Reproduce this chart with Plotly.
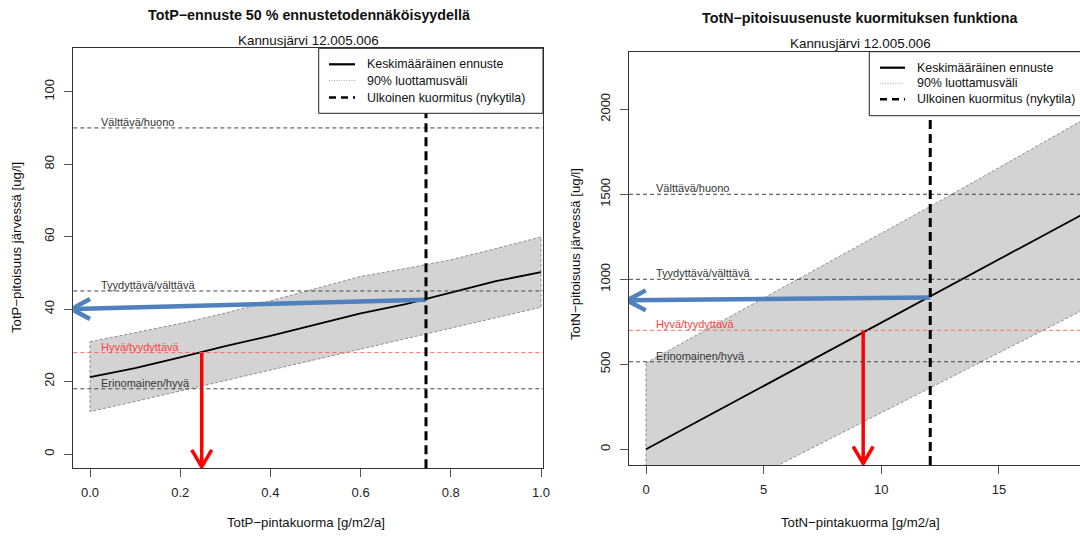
import plotly.graph_objects as go

# ---------------- data ----------------
# TotP (left)
p_load = [0.0, 0.1, 0.2, 0.3, 0.4, 0.5, 0.6, 0.7, 0.8, 0.9, 1.0]
p_mean = [21.2, 23.7, 26.7, 29.8, 32.6, 35.7, 38.8, 41.4, 44.6, 47.7, 50.2]
p_upper = [31.0, 33.4, 36.0, 38.9, 42.2, 45.6, 49.0, 51.2, 53.6, 56.7, 59.9]
p_lower = [11.7, 14.5, 17.3, 20.2, 23.1, 26.0, 28.9, 31.8, 34.6, 37.6, 40.5]
p_current = 0.745
p_current_conc = 42.6
p_arrow_end_conc = 40.0
p_target_load = 0.2477
p_target_conc = 28.0
p_class_vals = [90, 45, 28, 18]

# TotN (right)
n_load = [0, 2, 4, 6, 8, 10, 12, 14, 16, 18, 20]
n_mean = [0, 149, 298, 447, 596, 745, 894, 1043, 1192, 1341, 1490]
n_upper = [508, 660, 812, 965, 1118, 1271, 1423, 1578, 1735, 1893, 2050]
n_lower = [-490, -349, -208, -67, 74, 215, 356, 497, 638, 779, 920]
n_current = 12.08
n_current_conc = 893
n_arrow_end_conc = 876
n_target_load = 9.23
n_target_conc = 700
n_class_vals = [1500, 1000, 700, 515]

class_labels = ["Välttävä/huono", "Tyydyttävä/välttävä", "Hyvä/tyydyttävä", "Erinomainen/hyvä"]
class_colors = ["#333333", "#333333", "#FF4040", "#333333"]
class_line_colors = ["#444444", "#444444", "rgba(255,90,90,0.85)", "#444444"]

legend_labels = ["Keskimääräinen ennuste", "90% luottamusväli", "Ulkoinen kuormitus (nykytila)"]

# ---------------- layout geometry (pixels) ----------------
W, H = 1080, 538
FONT = "Liberation Sans, Arial, sans-serif"

def px(xp):
    return xp / W

def py(yp):
    return 1 - yp / H

# left panel
L_box = dict(x0=73.3, x1=543.0, y0=48.3, y1=468.3)
L_xr = [(73.3 - 90) / 451.0, (543.0 - 90) / 451.0]
L_yr = [(454 - 468.3) / 3.623, (454 - 48.3) / 3.623]
# right panel
R_box = dict(x0=629.0, x1=1080.0, y0=51.7, y1=465.0)
R_xr = [(629 - 646) / 23.53, (1080 - 646) / 23.53]
R_yr = [(449.3 - 465) / 0.17, (449.3 - 51.7) / 0.17]

fig = go.Figure()

def add_panel(xa, ya, loads, mean, upper, lower, current, cur_conc, end_conc,
              tload, tconc, xr, yr, box):
    # confidence band polygon
    poly_x = list(loads) + list(loads[::-1]) + [loads[0]]
    poly_y = list(upper) + list(lower[::-1]) + [upper[0]]
    fig.add_trace(go.Scatter(x=poly_x, y=poly_y, fill="toself", fillcolor="#D3D3D3",
                             mode="lines", line=dict(color="#777777", width=0.8, dash="3px,2px"),
                             xaxis=xa, yaxis=ya, showlegend=False, hoverinfo="skip"))
    # mean forecast
    fig.add_trace(go.Scatter(x=loads, y=mean, mode="lines",
                             line=dict(color="#000000", width=1.8),
                             xaxis=xa, yaxis=ya, showlegend=False))
    # px -> data unit factors
    ux = (xr[1] - xr[0]) / (box["x1"] - box["x0"])
    uy = (yr[1] - yr[0]) / (box["y1"] - box["y0"])
    # blue arrow (current load -> concentration)
    tip_x = xr[0] - 1.8 * ux
    fig.add_trace(go.Scatter(
        x=[current, tip_x, None, tip_x + 18.5 * ux, tip_x, tip_x + 18.5 * ux],
        y=[cur_conc, end_conc, None, end_conc + 10 * uy, end_conc, end_conc - 10 * uy],
        mode="lines", line=dict(color="#4F81BD", width=4.5),
        xaxis=xa, yaxis=ya, showlegend=False, hoverinfo="skip"))
    # red arrow (target concentration -> load)
    tip_y = yr[0] + 1.5 * uy
    fig.add_trace(go.Scatter(
        x=[tload, tload, None, tload - 10 * ux, tload, tload + 10 * ux],
        y=[tconc, tip_y, None, tip_y + 17 * uy, tip_y, tip_y + 17 * uy],
        mode="lines", line=dict(color="#FF0000", width=3.5),
        xaxis=xa, yaxis=ya, showlegend=False, hoverinfo="skip"))

add_panel("x", "y", p_load, p_mean, p_upper, p_lower, p_current, p_current_conc,
          p_arrow_end_conc, p_target_load, p_target_conc, L_xr, L_yr, L_box)
add_panel("x2", "y2", n_load, n_mean, n_upper, n_lower, n_current, n_current_conc,
          n_arrow_end_conc, n_target_load, n_target_conc, R_xr, R_yr, R_box)

shapes = []
annotations = []

def panel_decor(xref, yref, class_vals, current, label_x):
    for v, lab, tc, lc in zip(class_vals, class_labels, class_colors, class_line_colors):
        shapes.append(dict(type="line", xref=xref + " domain", yref=yref, x0=0, x1=1, y0=v, y1=v,
                           line=dict(color=lc, width=1, dash="4px,3px"), layer="above"))
        annotations.append(dict(xref=xref, yref=yref, x=label_x, y=v, text=lab, showarrow=False,
                                xanchor="left", yanchor="middle", yshift=6,
                                font=dict(family=FONT, size=11, color=tc)))
    shapes.append(dict(type="line", xref=xref, yref=yref + " domain", x0=current, x1=current,
                       y0=0, y1=1, line=dict(color="#000000", width=3, dash="9px,5px"), layer="above"))

panel_decor("x", "y", p_class_vals, p_current, (99 - 90) / 451.0)
panel_decor("x2", "y2", n_class_vals, n_current, (654 - 646) / 23.53)

def legend_box(x0, y0, x1, y1, rows, sx0, sx1, tx):
    shapes.append(dict(type="rect", xref="paper", yref="paper", x0=px(x0), x1=px(x1),
                       y0=py(y1), y1=py(y0), fillcolor="white",
                       line=dict(color="#222222", width=1), layer="above"))
    styles = [dict(color="#000000", width=2.2),
              dict(color="#AAAAAA", width=1, dash="1px,1.5px"),
              dict(color="#000000", width=2.6, dash="7px,5px")]
    for r, st, lab in zip(rows, styles, legend_labels):
        shapes.append(dict(type="line", xref="paper", yref="paper", x0=px(sx0), x1=px(sx1),
                           y0=py(r), y1=py(r), line=st, layer="above"))
        annotations.append(dict(xref="paper", yref="paper", x=px(tx), y=py(r), text=lab,
                                showarrow=False, xanchor="left", yanchor="middle",
                                font=dict(family=FONT, size=12.4, color="#111111")))

legend_box(318.7, 48.3, 543.0, 113.3, [64.3, 80.5, 97.5], 329, 355, 365)
legend_box(869.3, 51.7, 1090, 115.7, [67.7, 83.3, 99.3], 880, 905, 915)

# titles
def text_px(x, y, s, size, bold=False, angle=0):
    annotations.append(dict(xref="paper", yref="paper", x=px(x), y=py(y),
                            text=f"<b>{s}</b>" if bold else s, showarrow=False,
                            xanchor="center", yanchor="middle", textangle=angle,
                            font=dict(family=FONT, size=size, color="#111111")))

text_px(309, 15, "TotP−ennuste 50 % ennustetodennäköisyydellä", 14.3, bold=True)
text_px(308, 41, "Kannusjärvi 12.005.006", 13.4)
text_px(860, 18.3, "TotN−pitoisuusenuste kuormituksen funktiona", 14.3, bold=True)
text_px(860, 43.5, "Kannusjärvi 12.005.006", 13.4)
text_px(306, 522, "TotP−pintakuorma [g/m2/a]", 13.2)
text_px(860, 522, "TotN−pintakuorma [g/m2/a]", 13.2)
text_px(17, 248, "TotP−pitoisuus järvessä [ug/l]", 13.2, angle=-90)
text_px(575, 254, "TotN−pitoisuus järvessä [ug/l]", 13.2, angle=-90)

axis_common = dict(showgrid=False, zeroline=False, showline=True, linecolor="#333333",
                   linewidth=1, ticks="outside", ticklen=8, tickcolor="#555555", tickwidth=1,
                   tickfont=dict(family=FONT, size=13, color="#222222"))

fig.update_layout(
    width=W, height=H, plot_bgcolor="white", paper_bgcolor="white",
    margin=dict(l=0, r=0, t=0, b=0, autoexpand=False), showlegend=False,
    xaxis=dict(domain=[px(L_box["x0"]), px(L_box["x1"])], range=L_xr, anchor="y",
               tickvals=[0, 0.2, 0.4, 0.6, 0.8, 1.0], tickformat=".1f", mirror=True,
               ticklabelstandoff=4, **axis_common),
    yaxis=dict(domain=[py(L_box["y1"]), py(L_box["y0"])], range=L_yr, anchor="x",
               tickvals=[0, 20, 40, 60, 80, 100], tickangle=-90, mirror=True,
               ticklabelstandoff=5, **axis_common),
    xaxis2=dict(domain=[px(R_box["x0"]), 1.0], range=R_xr, anchor="y2",
                tickvals=[0, 5, 10, 15], mirror=True, ticklabelstandoff=4, **axis_common),
    yaxis2=dict(domain=[py(R_box["y1"]), py(R_box["y0"])], range=R_yr, anchor="x2",
                tickvals=[0, 500, 1000, 1500, 2000], tickangle=-90, mirror=False,
                ticklabelstandoff=5, **axis_common),
    shapes=shapes, annotations=annotations,
)

fig.write_html("out.html", config={"displayModeBar": False, "staticPlot": True},
               post_script="document.body.style.margin='0';document.body.style.padding='0';"
                           "document.body.style.overflow='hidden';"
                           "document.documentElement.style.overflow='hidden';")
